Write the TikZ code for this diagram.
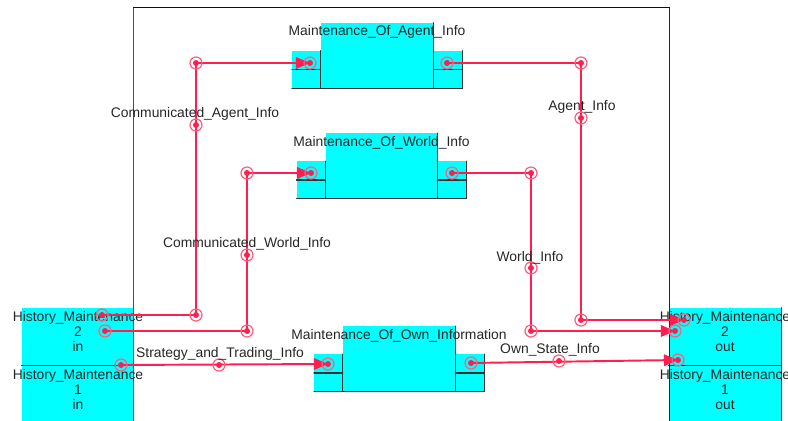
\documentclass[tikz,border=0pt]{standalone}
\usepackage{fontspec}
\setmainfont{Liberation Sans}
\usetikzlibrary{arrows.meta}
\definecolor{wirered}{RGB}{255,30,80}
\definecolor{ringred}{RGB}{255,95,125}
\definecolor{boxcyan}{RGB}{0,255,255}
\definecolor{framenavy}{RGB}{0,0,128}
\newlength{\px}\setlength{\px}{0.02cm}

\begin{document}
\begin{tikzpicture}[x=0.02cm,y=-0.02cm,>={Triangle[length=8pt,width=6.5pt]},
  font=\fontsize{7.9pt}{8.6pt}\selectfont,text=black!85,line cap=round,
  box/.style={fill=boxcyan,inner sep=0pt,minimum width=112\px,minimum height=65\px},
  port/.style={fill=boxcyan,inner sep=0pt,minimum width=28\px,minimum height=37\px},
  hmbox/.style={fill=boxcyan,inner sep=0pt,minimum width=112\px},
  edge/.style={draw=black!80,line width=0.6pt},
  wire/.style={draw=wirered,line width=1.1pt},
  joint/.style={circle,draw=ringred,line width=0.7pt,minimum size=12\px,inner sep=0pt,
    path picture={\fill[wirered] (path picture bounding box.center) circle (1.7pt);}},
  lbl/.style={anchor=base,inner sep=0pt}]
\useasboundingbox (0,0) rectangle (788,421);
\begin{scope}
\clip (0,0) rectangle (788,421);
\node[inner sep=0pt,minimum width=535\px,minimum height=422\px] (frame) at (401.5,219) {};
\node[hmbox,minimum height=57\px] (hmin2) at (78,336.5) {};
\node[hmbox,minimum height=65\px] (hmin1) at (78,397.5) {};
\node[hmbox,minimum height=57\px] (hmout2) at (725,336.5) {};
\node[hmbox,minimum height=65\px] (hmout1) at (725,397.5) {};
\draw[edge] (hmin2.south west) -- (hmin2.south east);
\draw[edge] (hmout2.south west) -- (hmout2.south east);
\draw[edge] (hmout2.north east) -- (hmout1.south east);
\draw[black!70,line width=0.6pt] (frame.north west) -- (frame.south west);
\draw[black!85,line width=0.6pt] (frame.north east) -- (frame.south east);
\draw[framenavy,line width=0.9pt] (frame.north west) -- (frame.north east);
\node[align=center] (hmin2-t) at (78,331.5) {History\_Maintenance\\2\\in};
\node[align=center] (hmin1-t) at (78,389.5) {History\_Maintenance\\1\\in};
\node[align=center] (hmout2-t) at (725,331.5) {History\_Maintenance\\2\\out};
\node[align=center] (hmout1-t) at (725,389.5) {History\_Maintenance\\1\\out};

\foreach \n/\x/\y/\t in {agent/377/55.5/Agent\_Info,world/381.5/166/World\_Info,own/399/359/Own\_Information}{
  \node[box] (\n) at (\x,\y) {};
  \node[port,anchor=south east] (\n-l) at (\n.south west) {};
  \node[port,anchor=south west] (\n-r) at (\n.south east) {};
  \foreach \b in {\n,\n-l,\n-r} \draw[edge] (\b.north east) |- (\b.south west);
  \draw[edge] (\n-l.west) -- (\n-l.east) (\n-r.west) -- (\n-r.east);
  \node[lbl] (\n-t) at ([yshift=-13\px]\n.north) {Maintenance\_Of\_\t};
}

\coordinate (agent-in) at (310,63);
\coordinate (agent-out) at (447,63);
\coordinate (world-in) at (311,173);
\coordinate (world-out) at (452,173);
\coordinate (own-in) at (328,364);
\coordinate (own-out) at (471,363);
\coordinate (hmin2-a) at (102,315);
\coordinate (hmin2-b) at (105,331);
\coordinate (hmin1-a) at (121,365);
\coordinate (hmout2-a) at (684,320);
\coordinate (hmout2-b) at (675,331);
\coordinate (hmout1-a) at (678,360);
\coordinate (cai-1) at (196,315);
\coordinate (cai-2) at (196,63);
\coordinate (cai-m) at (196,125);
\coordinate (cwi-1) at (247,331);
\coordinate (cwi-2) at (247,173);
\coordinate (cwi-m) at (247,255);
\coordinate (sti-m) at (219,365);
\coordinate (ai-1) at (581,63);
\coordinate (ai-2) at (581,320);
\coordinate (ai-m) at (581,118);
\coordinate (wi-1) at (531,173);
\coordinate (wi-2) at (531,331);
\coordinate (wi-m) at (531,268);
\coordinate (osi-m) at (559,361);

\draw[wire,->] (hmin2-a) -- (cai-1) -- (cai-2) -- (agent-in);
\draw[wire,->] (hmin2-b) -- (cwi-1) -- (cwi-2) -- (world-in);
\draw[wire,->] (hmin1-a) -- (own-in);
\draw[wire,->] (agent-out) -- (ai-1) -- (ai-2) -- (hmout2-a);
\draw[wire,->] (world-out) -- (wi-1) -- (wi-2) -- (hmout2-b);
\draw[wire,->] (own-out) -- (hmout1-a);

\foreach \j in {agent-in,agent-out,world-in,world-out,own-in,own-out,hmin2-a,hmin2-b,hmin1-a,
  hmout2-a,hmout2-b,hmout1-a,cai-1,cai-2,cai-m,cwi-1,cwi-2,cwi-m,sti-m,ai-1,ai-2,ai-m,
  wi-1,wi-2,wi-m,osi-m}
  \node[joint] (j-\j) at (\j) {};

\node[lbl] (cai) at (195,118) {Communicated\_Agent\_Info};
\node[lbl] (cwi) at (247,248) {Communicated\_World\_Info};
\node[lbl] (sti) at (220,358) {Strategy\_and\_Trading\_Info};
\node[lbl] (ai) at (582,111) {Agent\_Info};
\node[lbl] (wi) at (530,262) {World\_Info};
\node[lbl] (osi) at (550,354) {Own\_State\_Info};
\end{scope}
\end{tikzpicture}
\end{document}
